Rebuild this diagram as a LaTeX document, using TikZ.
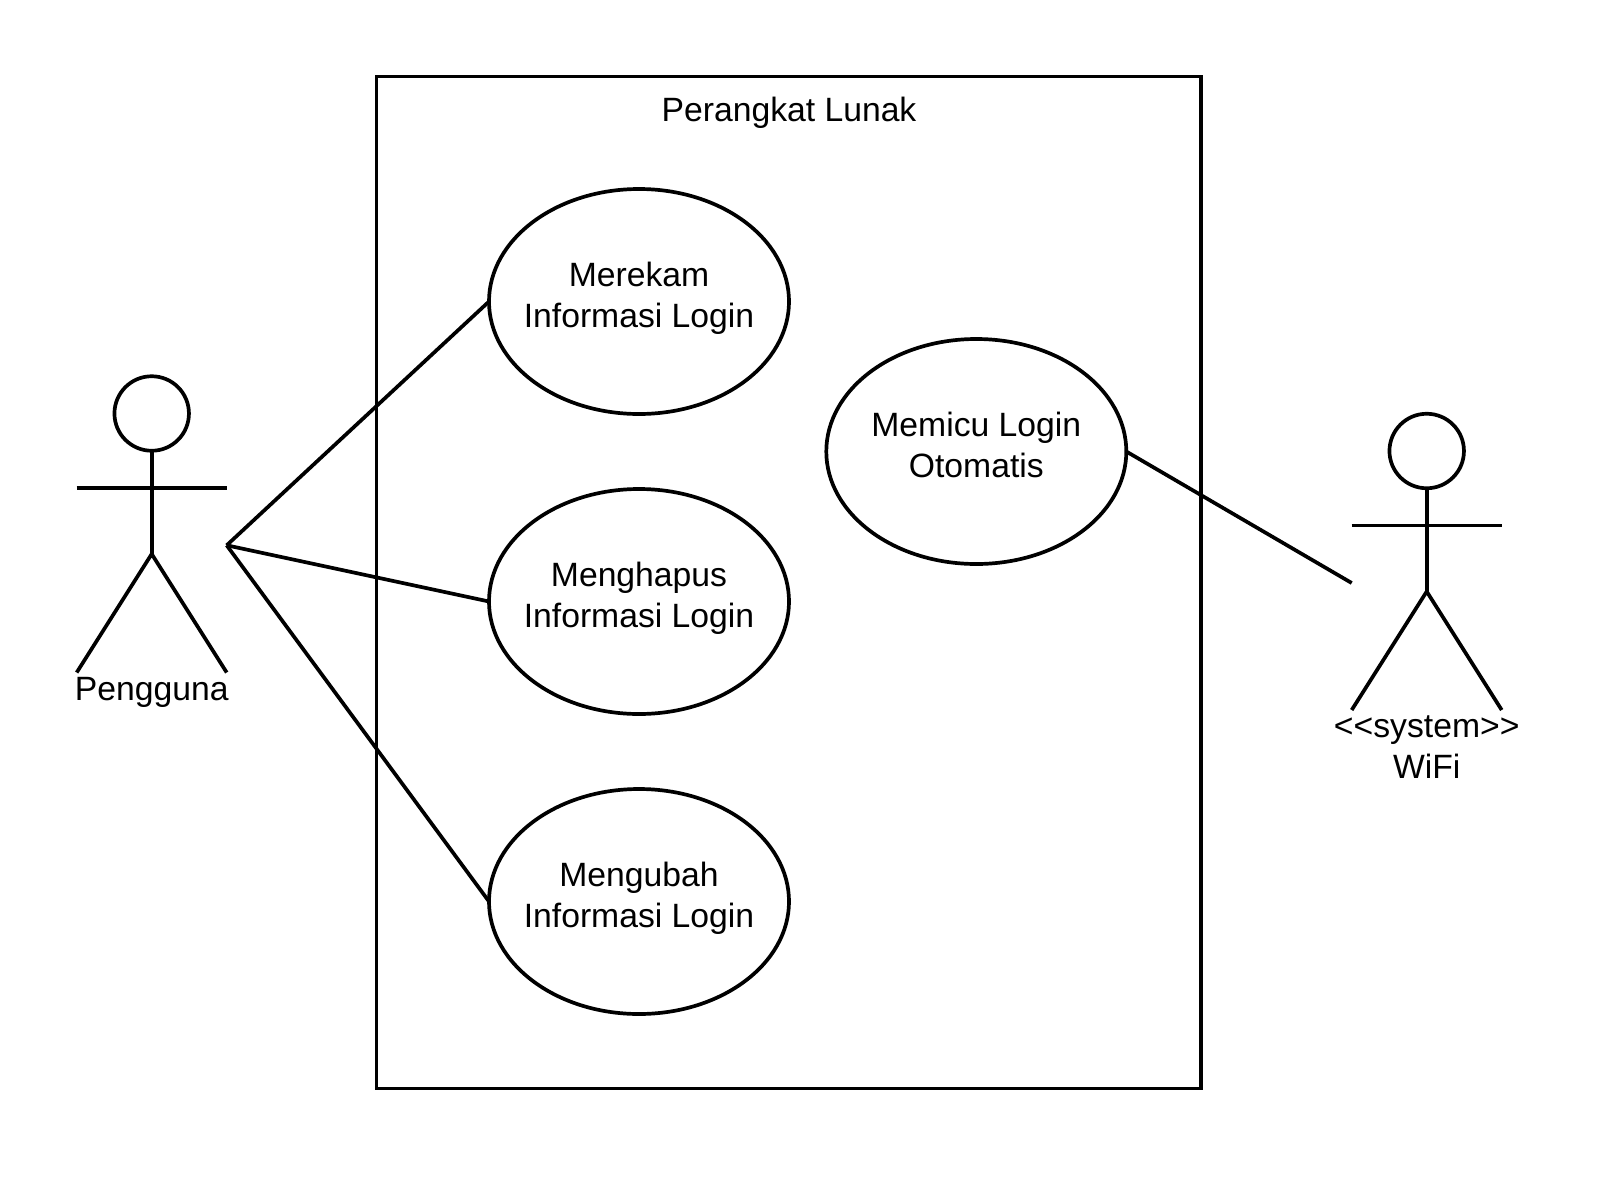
\documentclass[tikz,border=0pt]{standalone}
\usepackage{fontspec}
\setmainfont{Liberation Sans}
\usetikzlibrary{shapes.geometric}
\tikzset{
  umlline/.style={line width=3.7pt,draw=black},
  usecase/.style={ellipse,umlline,fill=white,minimum width=300pt,minimum height=225pt,inner sep=0pt,outer sep=0pt},
  head/.style={circle,umlline,fill=white,minimum size=74.5pt,inner sep=0pt,outer sep=0pt},
  caption/.style={inner sep=0pt,outer sep=0pt,anchor=base,align=center,font=\fontsize{33.7pt}{40.3pt}\selectfont},
  sysbox/.style={rectangle,umlline,minimum width=824.5pt,minimum height=1012pt,inner sep=0pt,outer sep=0pt}
}
\begin{document}
\begin{tikzpicture}[x=1pt,y=-1pt]
\useasboundingbox (0,0) rectangle (1620,1200);
\fill[white] (0,0) rectangle (1620,1200);
% system boundary
\node[sysbox] (sys) at (788.8,582.6) {};
\node[caption] (title) at (789,121) {Perangkat Lunak};
\coordinate (h1) at (226.7,545.3);
\coordinate (h2) at (1351.7,583);
% use cases
\node[usecase] (uc1) at (639,301.5) {};
\node[usecase] (uc2) at (639,601.5) {};
\node[usecase] (uc3) at (639,901.5) {};
\node[usecase] (uc4) at (976.3,451.5) {};
\node[caption] (uc1a) at (639,286.5) {Merekam};
\node[caption] (uc1b) at (639,327) {Informasi Login};
\node[caption] (uc2a) at (639,586.5) {Menghapus};
\node[caption] (uc2b) at (639,627) {Informasi Login};
\node[caption] (uc3a) at (639,886.5) {Mengubah};
\node[caption] (uc3b) at (639,927) {Informasi Login};
\node[caption] (uc4a) at (976.3,436.5) {Memicu Login};
\node[caption] (uc4b) at (976.3,477) {Otomatis};
\draw[umlline] (h1) -- (uc1.west);
\draw[umlline] (h1) -- (uc2.west);
\draw[umlline] (h1) -- (uc3.west);
\draw[umlline] (uc4.east) -- (h2);
% actor Pengguna
\node[head] (a1head) at (151.7,413.5) {};
\coordinate (a1hip) at (151.7,554);
\coordinate (a1la) at (76.7,487.9);
\coordinate (a1ra) at (226.7,487.9);
\coordinate (a1ll) at (76.7,672.5);
\coordinate (a1rl) at (226.7,672.5);
\draw[umlline] (a1head.south) -- (a1hip);
\draw[umlline] (a1la) -- (a1ra);
\draw[umlline] (a1ll) -- (a1hip) -- (a1rl);
\node[caption] (a1label) at (151.7,700) {Pengguna};
% actor WiFi
\node[head] (a2head) at (1426.7,451) {};
\coordinate (a2hip) at (1426.7,591.5);
\coordinate (a2la) at (1351.7,525.4);
\coordinate (a2ra) at (1501.7,525.4);
\coordinate (a2ll) at (1351.7,710);
\coordinate (a2rl) at (1501.7,710);
\draw[umlline] (a2head.south) -- (a2hip);
\draw[umlline] (a2la) -- (a2ra);
\draw[umlline] (a2ll) -- (a2hip) -- (a2rl);
\node[caption] (a2label) at (1426.7,737.5) {<{}<system>{}>};
\node[caption] (a2name) at (1426.7,778) {WiFi};
\end{tikzpicture}
\end{document}
